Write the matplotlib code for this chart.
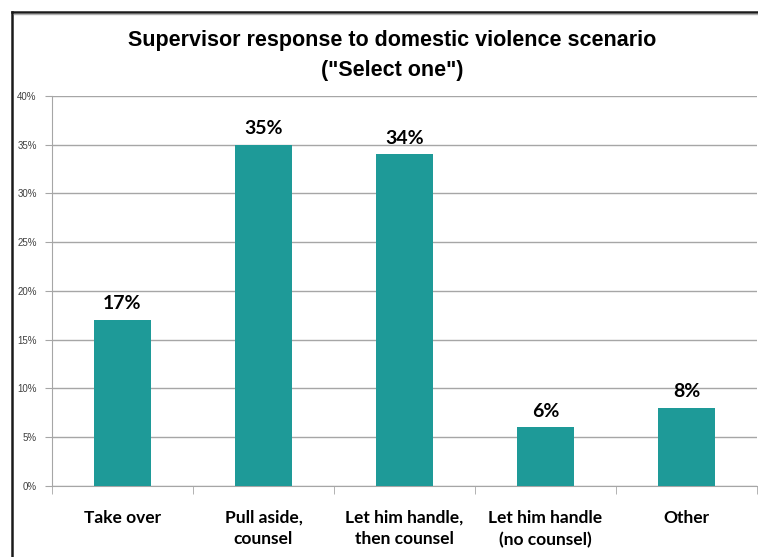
import matplotlib.pyplot as plt
from matplotlib.lines import Line2D
import numpy as np

# data
categories = ["Take over", "Pull aside,\ncounsel", "Let him handle,\nthen counsel",
              "Let him handle\n(no counsel)", "Other"]
values = [17, 35, 34, 6, 8]
yticks = [0, 5, 10, 15, 20, 25, 30, 35, 40]

bar_color = "#1e9a98"
grid_color = "#a6a6a6"

fig = plt.figure(figsize=(7.58, 5.57), dpi=100)
ax = fig.add_axes([0.0686, 0.1275, 0.930, 0.7005])

x = np.arange(len(categories))
ax.bar(x, values, width=0.4, color=bar_color, zorder=3)

for xi, v in zip(x, values):
    ax.text(xi, v + 0.8, f"{v}%", ha="center", va="bottom",
            fontsize=14, fontweight="bold", family=["Lato", "DejaVu Sans"])

ax.set_xlim(-0.5, len(categories) - 0.5)
ax.set_ylim(0, 40)
ax.set_yticks(yticks)
ax.set_yticklabels([f"{t}%" for t in yticks], fontsize=7, color="#404040",
                   family=["Liberation Sans", "DejaVu Sans"])
ax.yaxis.grid(True, color=grid_color, linewidth=1, zorder=0)

# category labels, tick marks sit on the boundaries
ax.set_xticks(x)
ax.set_xticklabels(categories, fontsize=12.5, fontweight="bold",
                   family=["Lato", "DejaVu Sans"], linespacing=1.45)
ax.set_xticks(np.arange(len(categories) + 1) - 0.5, minor=True)
ax.tick_params(axis="x", which="major", length=0, pad=17)
ax.tick_params(axis="x", which="minor", length=6, color=grid_color, direction="out")
ax.tick_params(axis="y", length=5, color=grid_color, pad=6)

for side in ["top", "right"]:
    ax.spines[side].set_visible(False)
for side in ["left", "bottom"]:
    ax.spines[side].set_color(grid_color)

fig.text(0.517, 0.901, "Supervisor response to domestic violence scenario\n(\"Select one\")",
         ha="center", va="center", fontsize=15.5, fontweight="bold",
         family=["Liberation Sans", "DejaVu Sans"], linespacing=1.55)

# frame lines at the top and left of the slide
fig.add_artist(Line2D([11.5 / 758, 11.5 / 758], [0, 1 - 12 / 557], color="#1a1a1a", linewidth=1.8))
fig.add_artist(Line2D([11.5 / 758, 1], [1 - 12 / 557, 1 - 12 / 557], color="#1a1a1a", linewidth=1.8))
fig.add_artist(Line2D([13.5 / 758, 1], [1 - 14 / 557, 1 - 14 / 557], color="#b0b0b0", linewidth=1))

fig.savefig("out.png", dpi=100)
